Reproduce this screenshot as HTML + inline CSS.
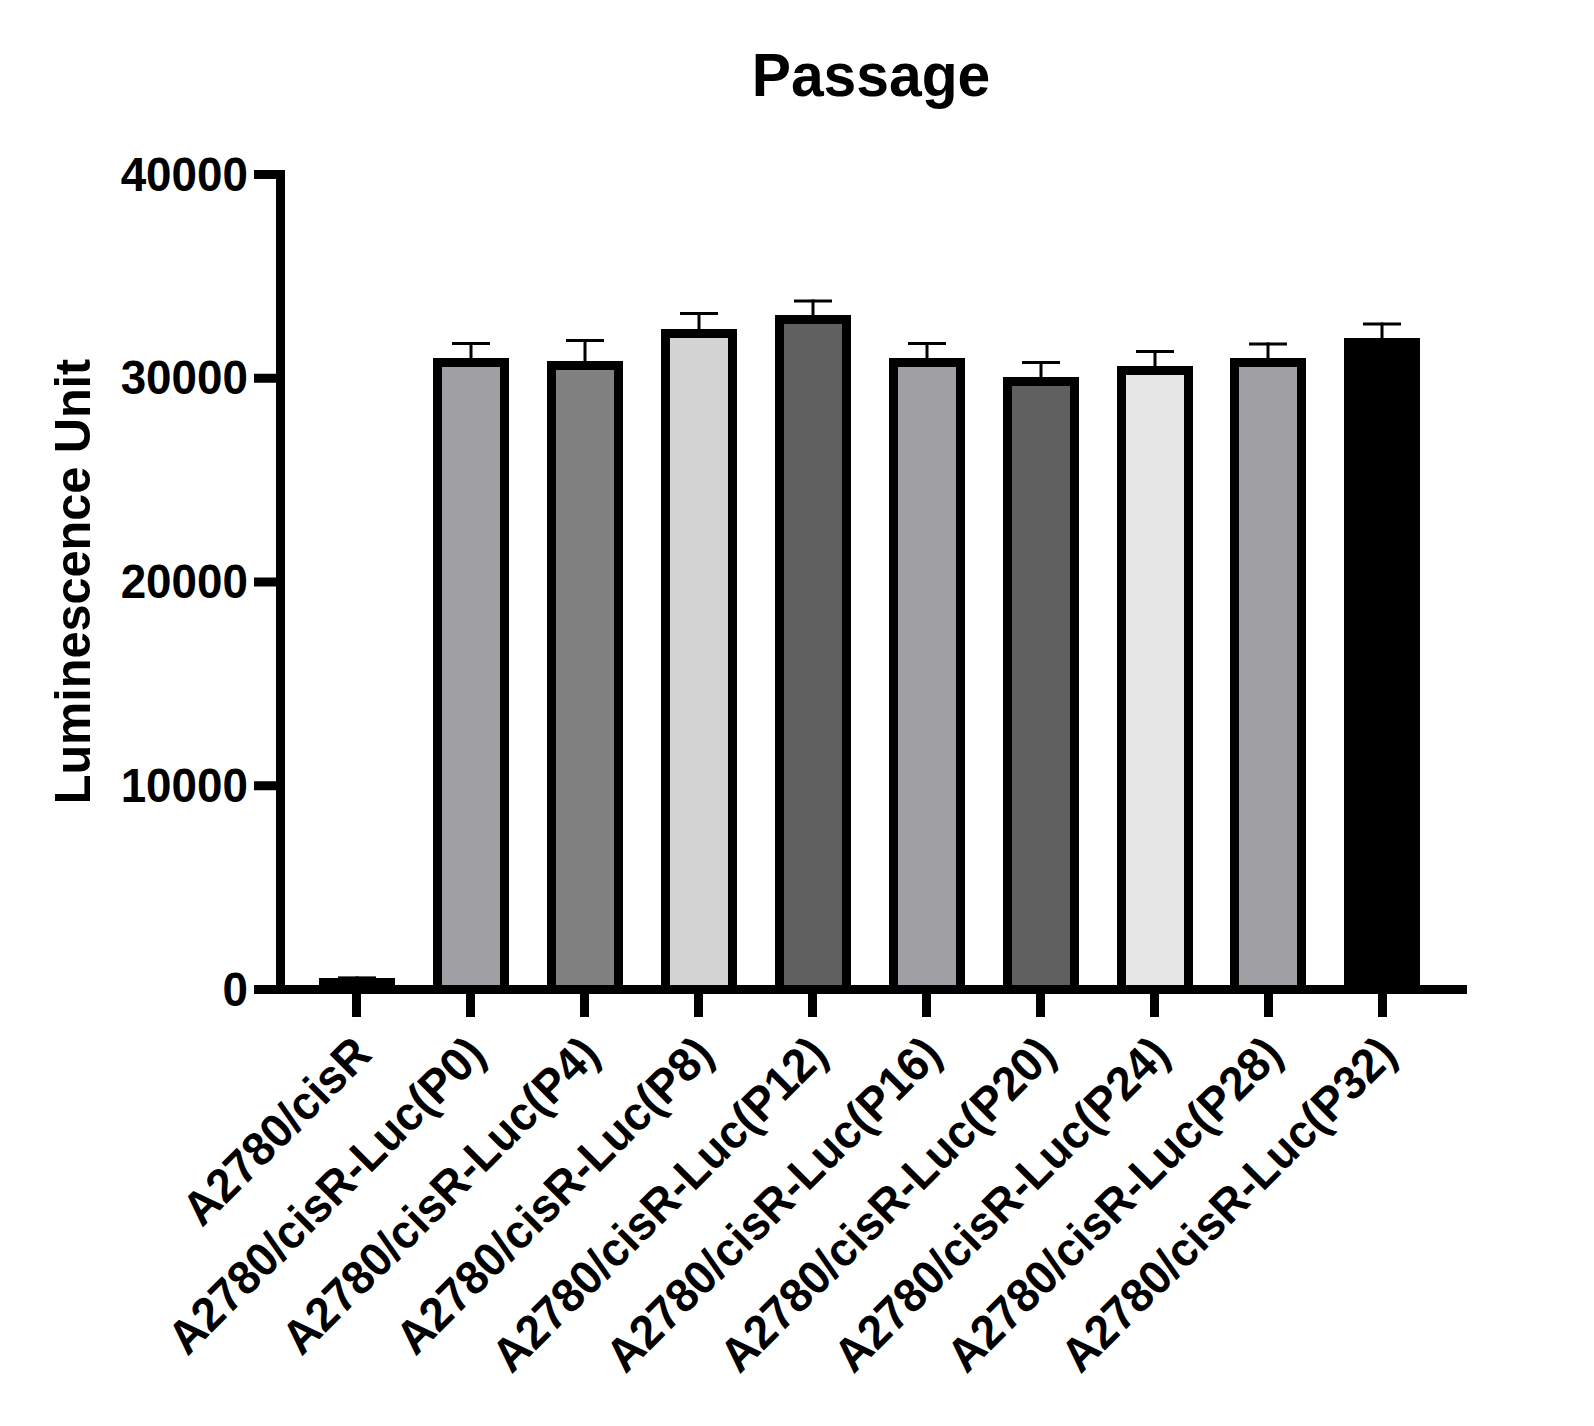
<!DOCTYPE html>
<html lang="en"><head><meta charset="utf-8"><title>Passage</title>
<style>html,body{margin:0;padding:0;background:#fff}svg{display:block}text{font-family:"Liberation Sans",Arial,Helvetica,sans-serif;font-weight:bold;fill:#000}</style></head><body>
<svg width="1594" height="1426" viewBox="0 0 1594 1426">
<rect width="1594" height="1426" fill="#fff"/>
<text transform="translate(871,96) scale(1,1.04)" font-size="58.8" text-anchor="middle">Passage</text>
<text transform="translate(90,581.5) rotate(-90) scale(1,1.04)" font-size="48.6" text-anchor="middle">Luminescence Unit</text>
<rect x="355.5" y="976.4" width="3" height="3.6" fill="#000"/>
<rect x="338" y="976.4" width="38" height="3" fill="#000"/>
<rect x="319" y="978" width="76" height="12" fill="#000"/>
<rect x="469.5" y="342" width="3" height="18" fill="#000"/>
<rect x="452" y="342" width="38" height="3" fill="#000"/>
<rect x="433" y="358" width="76" height="632" fill="#000"/>
<rect x="442" y="367" width="58" height="623" fill="#a09fa3"/>
<rect x="583.5" y="339" width="3" height="24" fill="#000"/>
<rect x="566" y="339" width="38" height="3" fill="#000"/>
<rect x="547" y="361" width="76" height="629" fill="#000"/>
<rect x="556" y="370" width="58" height="620" fill="#808080"/>
<rect x="697.5" y="312" width="3" height="19" fill="#000"/>
<rect x="680" y="312" width="38" height="3" fill="#000"/>
<rect x="661" y="329" width="76" height="661" fill="#000"/>
<rect x="670" y="338" width="58" height="652" fill="#d3d3d3"/>
<rect x="811.5" y="299.5" width="3" height="17.5" fill="#000"/>
<rect x="794" y="299.5" width="38" height="3" fill="#000"/>
<rect x="775" y="315" width="76" height="675" fill="#000"/>
<rect x="784" y="324" width="58" height="666" fill="#606060"/>
<rect x="925.5" y="342" width="3" height="18" fill="#000"/>
<rect x="908" y="342" width="38" height="3" fill="#000"/>
<rect x="889" y="358" width="76" height="632" fill="#000"/>
<rect x="898" y="367" width="58" height="623" fill="#a09fa3"/>
<rect x="1039.5" y="361" width="3" height="18" fill="#000"/>
<rect x="1022" y="361" width="38" height="3" fill="#000"/>
<rect x="1003" y="377" width="76" height="613" fill="#000"/>
<rect x="1012" y="386" width="58" height="604" fill="#606060"/>
<rect x="1153.5" y="350" width="3" height="18" fill="#000"/>
<rect x="1136" y="350" width="38" height="3" fill="#000"/>
<rect x="1117" y="366" width="76" height="624" fill="#000"/>
<rect x="1126" y="375" width="58" height="615" fill="#e6e6e6"/>
<rect x="1266.5" y="342.5" width="3" height="17.5" fill="#000"/>
<rect x="1249" y="342.5" width="38" height="3" fill="#000"/>
<rect x="1230" y="358" width="76" height="632" fill="#000"/>
<rect x="1239" y="367" width="58" height="623" fill="#a09fa3"/>
<rect x="1380.5" y="322.5" width="3" height="17.5" fill="#000"/>
<rect x="1363" y="322.5" width="38" height="3" fill="#000"/>
<rect x="1344" y="338" width="76" height="652" fill="#000"/>
<rect x="254" y="985" width="1213" height="9" fill="#000"/>
<rect x="276" y="170" width="9" height="824" fill="#000"/>
<rect x="254" y="170.0" width="31" height="9" fill="#000"/>
<text transform="translate(248,190.5) scale(1,1.04)" font-size="45.8" text-anchor="end">40000</text>
<rect x="254" y="373.75" width="31" height="9" fill="#000"/>
<text transform="translate(248,394.25) scale(1,1.04)" font-size="45.8" text-anchor="end">30000</text>
<rect x="254" y="577.5" width="31" height="9" fill="#000"/>
<text transform="translate(248,598.0) scale(1,1.04)" font-size="45.8" text-anchor="end">20000</text>
<rect x="254" y="781.25" width="31" height="9" fill="#000"/>
<text transform="translate(248,801.75) scale(1,1.04)" font-size="45.8" text-anchor="end">10000</text>
<rect x="254" y="985.0" width="31" height="9" fill="#000"/>
<text transform="translate(248,1005.5) scale(1,1.04)" font-size="45.8" text-anchor="end">0</text>
<rect x="352" y="990" width="9" height="27" fill="#000"/>
<text transform="translate(373.7,1056.6) rotate(-45) scale(1,1.04)" font-size="45.5" text-anchor="end">A2780/cisR</text>
<rect x="466" y="990" width="9" height="27" fill="#000"/>
<text transform="translate(487.7,1056.6) rotate(-45) scale(1,1.04)" font-size="45.5" text-anchor="end">A2780/cisR-Luc(P0)</text>
<rect x="580" y="990" width="9" height="27" fill="#000"/>
<text transform="translate(601.7,1056.6) rotate(-45) scale(1,1.04)" font-size="45.5" text-anchor="end">A2780/cisR-Luc(P4)</text>
<rect x="694" y="990" width="9" height="27" fill="#000"/>
<text transform="translate(715.7,1056.6) rotate(-45) scale(1,1.04)" font-size="45.5" text-anchor="end">A2780/cisR-Luc(P8)</text>
<rect x="808" y="990" width="9" height="27" fill="#000"/>
<text transform="translate(829.7,1056.6) rotate(-45) scale(1,1.04)" font-size="45.5" text-anchor="end">A2780/cisR-Luc(P12)</text>
<rect x="922" y="990" width="9" height="27" fill="#000"/>
<text transform="translate(943.7,1056.6) rotate(-45) scale(1,1.04)" font-size="45.5" text-anchor="end">A2780/cisR-Luc(P16)</text>
<rect x="1036" y="990" width="9" height="27" fill="#000"/>
<text transform="translate(1057.7,1056.6) rotate(-45) scale(1,1.04)" font-size="45.5" text-anchor="end">A2780/cisR-Luc(P20)</text>
<rect x="1150" y="990" width="9" height="27" fill="#000"/>
<text transform="translate(1171.7,1056.6) rotate(-45) scale(1,1.04)" font-size="45.5" text-anchor="end">A2780/cisR-Luc(P24)</text>
<rect x="1264" y="990" width="9" height="27" fill="#000"/>
<text transform="translate(1284.7,1056.6) rotate(-45) scale(1,1.04)" font-size="45.5" text-anchor="end">A2780/cisR-Luc(P28)</text>
<rect x="1378" y="990" width="9" height="27" fill="#000"/>
<text transform="translate(1398.7,1056.6) rotate(-45) scale(1,1.04)" font-size="45.5" text-anchor="end">A2780/cisR-Luc(P32)</text>
</svg></body></html>
